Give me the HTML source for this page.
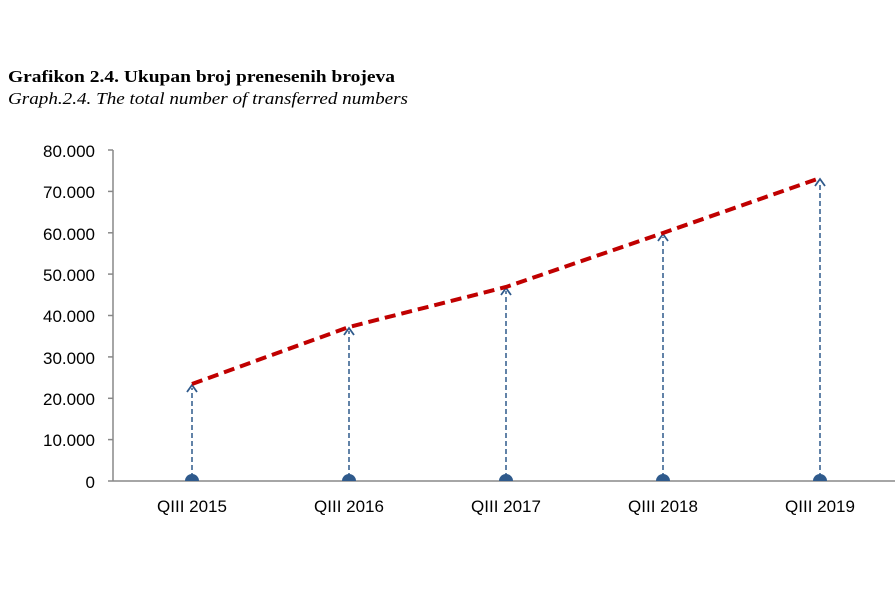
<!DOCTYPE html>
<html><head><meta charset="utf-8"><style>
html,body{margin:0;padding:0;background:#fff;width:895px;height:596px;overflow:hidden}
</style></head><body>
<svg width="895" height="596" xmlns="http://www.w3.org/2000/svg">
<text x="8" y="82" font-family="Liberation Serif, serif" font-weight="bold" font-size="17" fill="#000" textLength="387" lengthAdjust="spacingAndGlyphs">Grafikon 2.4. Ukupan broj prenesenih brojeva</text>
<text x="8" y="104" font-family="Liberation Serif, serif" font-style="italic" font-size="17" fill="#000" textLength="400" lengthAdjust="spacingAndGlyphs">Graph.2.4. The total number of transferred numbers</text>
<g stroke="#888" stroke-width="1.5">
<line x1="113" y1="150" x2="113" y2="481"/>
<line x1="108" y1="481" x2="895" y2="481"/>
<line x1="108" y1="150" x2="113" y2="150"/>
<line x1="108" y1="191.4" x2="113" y2="191.4"/>
<line x1="108" y1="232.8" x2="113" y2="232.8"/>
<line x1="108" y1="274.1" x2="113" y2="274.1"/>
<line x1="108" y1="315.5" x2="113" y2="315.5"/>
<line x1="108" y1="356.9" x2="113" y2="356.9"/>
<line x1="108" y1="398.3" x2="113" y2="398.3"/>
<line x1="108" y1="439.6" x2="113" y2="439.6"/>
</g>
<g font-family="Liberation Sans, sans-serif" font-size="17" fill="#000" text-anchor="end">
<text x="95" y="157">80.000</text>
<text x="95" y="198">70.000</text>
<text x="95" y="240">60.000</text>
<text x="95" y="281">50.000</text>
<text x="95" y="322">40.000</text>
<text x="95" y="364">30.000</text>
<text x="95" y="405">20.000</text>
<text x="95" y="446">10.000</text>
<text x="95" y="488">0</text>
</g>
<g font-family="Liberation Sans, sans-serif" font-size="17" fill="#000" text-anchor="middle">
<text x="192" y="512">QIII 2015</text>
<text x="349" y="512">QIII 2016</text>
<text x="506" y="512">QIII 2017</text>
<text x="663" y="512">QIII 2018</text>
<text x="820" y="512">QIII 2019</text>
</g>
<g stroke="#2f5a8c" stroke-width="1.5" stroke-dasharray="5,3" fill="none">
<line x1="192" y1="478" x2="192" y2="388"/>
<line x1="349" y1="478" x2="349" y2="331"/>
<line x1="506" y1="478" x2="506" y2="291"/>
<line x1="663" y1="478" x2="663" y2="237"/>
<line x1="820" y1="478" x2="820" y2="182"/>
</g>
<g stroke="#2f5a8c" stroke-width="1.8" fill="none">
<polyline points="187,392 192,385 197,392"/>
<polyline points="344,335 349,328 354,335"/>
<polyline points="501,295 506,288 511,295"/>
<polyline points="658,241 663,234 668,241"/>
<polyline points="815,186 820,179 825,186"/>
</g>
<g fill="#2f5a8c">
<path d="M185,481 a7,7 0 0 1 14,0 z"/>
<path d="M342,481 a7,7 0 0 1 14,0 z"/>
<path d="M499,481 a7,7 0 0 1 14,0 z"/>
<path d="M656,481 a7,7 0 0 1 14,0 z"/>
<path d="M813,481 a7,7 0 0 1 14,0 z"/>
</g>
<polyline points="192,384 349,327 506,287 663,233 820,178" fill="none" stroke="#c00000" stroke-width="4" stroke-dasharray="11,6"/>
</svg>
</body></html>
